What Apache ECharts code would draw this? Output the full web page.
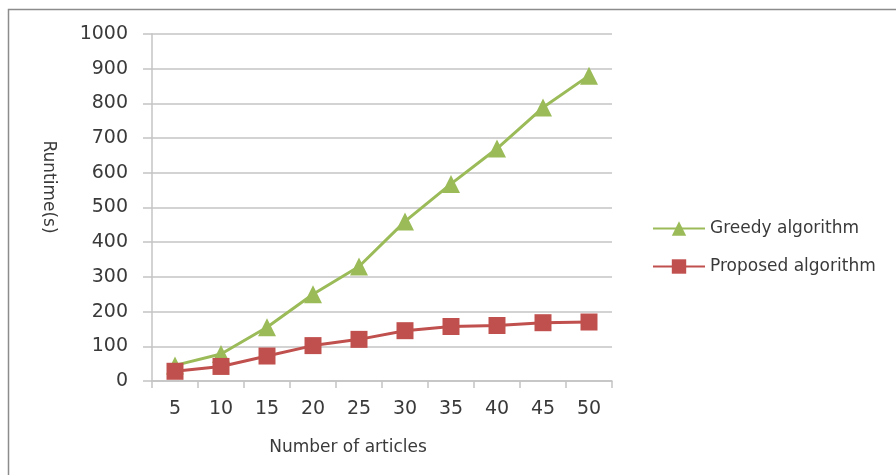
<!DOCTYPE html>
<html>
<head>
<meta charset="utf-8">
<script src="https://cdn.jsdelivr.net/npm/echarts@6/dist/echarts.min.js"></script>
<style>
  html, body { margin: 0; padding: 0; background: #fff; }
  #chart { width: 896px; height: 475px; }
</style>
</head>
<body>
<div id="chart"></div>
<script>
const categories = ['5', '10', '15', '20', '25', '30', '35', '40', '45', '50']
const greedy = [45, 78, 155, 250, 330, 460, 568, 670, 788, 880]
const proposed = [28, 42, 72, 102, 120, 145, 157, 160, 168, 170]

const font = 'DejaVu Sans'
const gridColor = '#c4c4c4'
const textColor = '#3a3a3a'

const chart = echarts.init(document.getElementById('chart'))

chart.setOption({
  animation: false,
  textStyle: { fontFamily: font },
  graphic: [
    {
      type: 'rect',
      shape: { x: 8.5, y: 9.5, width: 900, height: 480 },
      style: { fill: 'none', stroke: '#8c8c8c', lineWidth: 1.5 }
    },
    {
      type: 'text',
      x: 48,
      y: 187,
      rotation: -Math.PI / 2,
      style: {
        text: 'Runtime(s)',
        fontFamily: font,
        fontSize: 17,
        fill: textColor,
        align: 'center',
        verticalAlign: 'middle'
      }
    }
  ],
  grid: { left: 152, right: 284, top: 34, bottom: 94, outerBoundsMode: 'none' },
  legend: {
    orient: 'vertical',
    left: 647,
    top: 215,
    itemWidth: 52,
    itemHeight: 18,
    itemGap: 21,
    textStyle: { fontFamily: font, fontSize: 17, color: textColor },
    data: ['Greedy algorithm', 'Proposed algorithm']
  },
  xAxis: {
    type: 'category',
    data: categories,
    boundaryGap: true,
    name: 'Number of articles',
    nameLocation: 'middle',
    nameGap: 58,
    nameTextStyle: { fontFamily: font, fontSize: 17, color: textColor, padding: [0, 68, 0, 0] },
    axisLine: { lineStyle: { color: gridColor, width: 1.5 } },
    axisTick: { show: true, length: 7, lineStyle: { color: gridColor, width: 1.5 } },
    axisLabel: { margin: 19, fontSize: 19, color: textColor, fontFamily: font }
  },
  yAxis: {
    type: 'value',
    min: 0,
    max: 1000,
    interval: 100,
    axisLine: { show: true, lineStyle: { color: gridColor, width: 1.5 } },
    axisTick: { show: true, length: 9, lineStyle: { color: gridColor, width: 1.5 } },
    axisLabel: {
      margin: 24,
      fontSize: 19,
      color: textColor,
      fontFamily: font,
      formatter: v => String(v)
    },
    splitLine: { lineStyle: { color: gridColor, width: 1.5 } }
  },
  series: [
    {
      name: 'Greedy algorithm',
      type: 'line',
      data: greedy,
      symbol: 'triangle',
      symbolSize: 18,
      lineStyle: { color: '#9bbb59', width: 3 },
      itemStyle: { color: '#9bbb59' }
    },
    {
      name: 'Proposed algorithm',
      type: 'line',
      data: proposed,
      symbol: 'rect',
      symbolSize: 17,
      lineStyle: { color: '#c0504d', width: 3 },
      itemStyle: { color: '#c0504d' }
    }
  ]
})
</script>
</body>
</html>
